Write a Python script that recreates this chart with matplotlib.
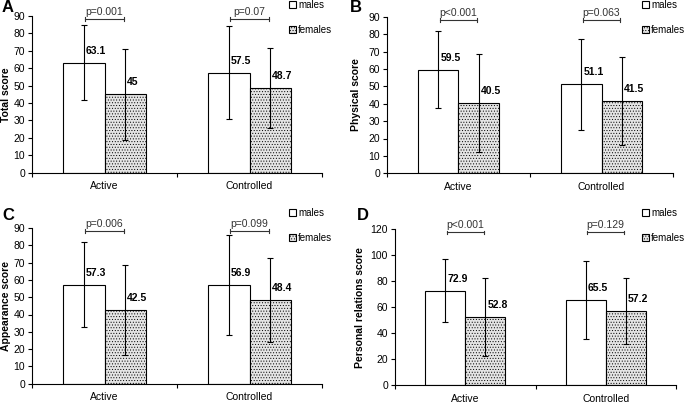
import numpy as np
import matplotlib
matplotlib.use('Agg')
import matplotlib.pyplot as plt
from matplotlib.patches import Patch

plt.rcParams['font.family'] = ['Liberation Sans', 'DejaVu Sans']
plt.rcParams['hatch.color'] = '#9a9a9a'
plt.rcParams['hatch.linewidth'] = 0.4

categories = ['Active', 'Controlled']
panels = ['A', 'B', 'C', 'D']
ylabels = ['Total score', 'Physical score', 'Appearance score', 'Personal relations score']

males_mean = [[63.1, 57.5], [59.5, 51.1], [57.3, 56.9], [72.9, 65.5]]
males_sd = [[21.6, 26.8], [22.0, 26.2], [24.7, 28.8], [24.2, 30.0]]
females_mean = [[45, 48.7], [40.5, 41.5], [42.5, 48.4], [52.8, 57.2]]
females_sd = [[26.3, 23.0], [28.0, 25.5], [26.0, 24.3], [30.0, 25.5]]
pvalues = [['p=0.001', 'p=0.07'], ['p<0.001', 'p=0.063'],
           ['p=0.006', 'p=0.099'], ['p<0.001', 'p=0.129']]
ymax = [90, 90, 90, 120]
ystep = [10, 10, 10, 20]

# axes boxes in pixels: left, right, top, bottom
W, H = 685, 407
boxes = [(32, 322, 16, 172.7), (387, 673, 16.7, 173.3),
         (32, 322, 228, 383.7), (395, 676, 229.3, 385.3)]
letter_pos = [(2, 8), (350, 8), (2, 215), (357, 215)]
legend_pos = [(289, 0), (642, 0), (289, 208), (642, 208)]
ylabel_x = [11, 361, 11, 365]

fig = plt.figure(figsize=(W / 100, H / 100), dpi=100)
bw = 0.283

for k in range(4):
    l, r, t, b = boxes[k]
    ax = fig.add_axes([l / W, 1 - b / H, (r - l) / W, (b - t) / H])
    x = np.arange(len(categories))
    ax.bar(x - bw / 2, males_mean[k], bw, color='white', edgecolor='black', linewidth=0.8)
    ax.bar(x + bw / 2, females_mean[k], bw, color='#e4e4e4', edgecolor='black',
           linewidth=0.8, hatch='......')
    ax.errorbar(x - bw / 2, males_mean[k], yerr=males_sd[k], fmt='none', ecolor='black',
                elinewidth=0.8, capsize=2.5, capthick=0.8)
    ax.errorbar(x + bw / 2, females_mean[k], yerr=females_sd[k], fmt='none', ecolor='black',
                elinewidth=0.8, capsize=2.5, capthick=0.8)
    for i in range(2):
        for xx, v in ((x[i] - bw / 2, males_mean[k][i]), (x[i] + bw / 2, females_mean[k][i])):
            ax.annotate(f'{v:g}', (xx, v), xytext=(1.5, 5), textcoords='offset points',
                        ha='left', va='bottom', fontsize=7.5, fontweight='bold')
        # significance bracket
        yb = ymax[k] * 0.98
        x0, x1 = x[i] - bw / 2 + 0.01, x[i] + bw / 2 - 0.01
        ax.plot([x0, x1], [yb, yb], color='#333333', lw=0.8, clip_on=False)
        for xe in (x0, x1):
            ax.plot([xe, xe], [yb - ymax[k] * 0.012, yb + ymax[k] * 0.012],
                    color='#333333', lw=0.8, clip_on=False)
        ax.annotate(pvalues[k][i], ((x0 + x1) / 2, yb), xytext=(0, 1.5),
                    textcoords='offset points', ha='center', va='bottom',
                    fontsize=7.5, color='#333333', annotation_clip=False)

    ax.set_xlim(-0.5, 1.5)
    ax.set_ylim(0, ymax[k])
    ax.set_yticks(np.arange(0, ymax[k] + 1, ystep[k]))
    ax.set_xticks([-0.5, 0.5, 1.5])
    ax.set_xticklabels([])
    ax.set_xticks(x, minor=True)
    ax.set_xticklabels(categories, minor=True)
    ax.tick_params(axis='x', which='minor', length=0, labelsize=7.5, pad=6)
    ax.tick_params(axis='x', which='major', length=3, width=0.8, direction='out')
    ax.tick_params(axis='y', length=3, width=0.8, direction='out', labelsize=7.5, pad=2)
    for s in ('top', 'right'):
        ax.spines[s].set_visible(False)
    for s in ('left', 'bottom'):
        ax.spines[s].set_linewidth(0.8)
    ax.set_ylabel(ylabels[k], fontsize=7.5, fontweight='bold')
    ax.yaxis.set_label_coords((ylabel_x[k] - l) / (r - l), 0.5)

    lx, ly = letter_pos[k]
    fig.text(lx / W, 1 - ly / H, panels[k], fontsize=12, fontweight='bold',
             ha='left', va='center')

    handles = [Patch(facecolor='white', edgecolor='black', linewidth=0.8),
               Patch(facecolor='#e4e4e4', edgecolor='black', linewidth=0.8, hatch='......')]
    gx, gy = legend_pos[k]
    fig.legend(handles, ['males', 'females'], loc='upper left',
               bbox_to_anchor=(gx / W, 1 - gy / H), frameon=False, fontsize=7,
               handlelength=0.7, handleheight=0.7, handletextpad=0.25,
               labelspacing=1.5, borderpad=0, borderaxespad=0)

fig.savefig('out.png', dpi=100)
